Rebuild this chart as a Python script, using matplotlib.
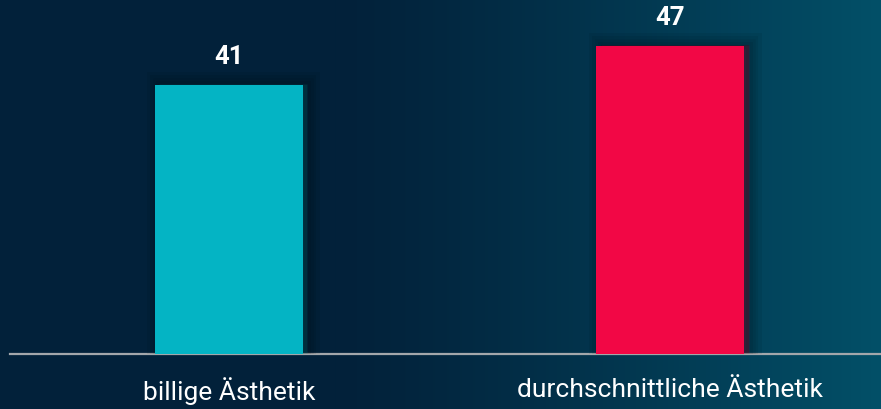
import numpy as np
import matplotlib
matplotlib.use("Agg")
import matplotlib.pyplot as plt
import matplotlib.patheffects as pe
from matplotlib.colors import to_rgb

categories = ["billige Ästhetik", "durchschnittliche Ästhetik"]
values = [41, 47]
bar_colors = ["#04b4c4", "#f20745"]

plt.rcParams["font.family"] = ["Roboto", "DejaVu Sans"]

fig = plt.figure(figsize=(8.81, 4.09), dpi=100)

# horizontal background gradient: dark navy on the left, petrol on the right
bg = fig.add_axes([0, 0, 1, 1], zorder=-10)
left = np.array(to_rgb("#02213a"))
right = np.array(to_rgb("#025068"))
t = np.linspace(0, 1, 881)
w = np.clip((t - 0.38) / 0.62, 0, 1) ** 1.2
row = left[None, :] * (1 - w[:, None]) + right[None, :] * w[:, None]
bg.imshow(row[None, :, :], aspect="auto", extent=[0, 1, 0, 1])
bg.set_axis_off()

ax = fig.add_axes([10 / 881, 55 / 409, 871 / 881, 354 / 409])
ax.set_facecolor("none")
x = np.arange(len(categories))

# soft drop shadow built from stacked translucent strokes
shadow = [pe.SimplePatchShadow(offset=(3, 1), shadow_rgbFace="black", alpha=0.2)]
for lw in (18, 13, 9, 5):
    shadow.append(pe.Stroke(offset=(3, 1), linewidth=lw, foreground="black", alpha=0.06))
shadow.append(pe.Normal())

bars = ax.bar(x, values, width=0.335, color=bar_colors, zorder=3)
for b in bars:
    b.set_path_effects(shadow)

for xi, v in zip(x, values):
    ax.annotate(str(v), (xi, v), xytext=(0, 11.5), textcoords="offset points",
                ha="center", va="bottom", color="white", fontsize=18.5, fontweight="bold")

ax.set_xlim(-0.496, 1.477)
ax.set_ylim(0, 54.0)
for s in ("top", "right", "left"):
    ax.spines[s].set_visible(False)
ax.spines["bottom"].set_color("#a3a7ab")
ax.spines["bottom"].set_linewidth(1.6)
ax.set_yticks([])
ax.set_xticks(x)
ax.set_xticklabels(categories, color="white", fontsize=19)
ax.tick_params(axis="x", length=0, pad=17)

fig.savefig("out.png", dpi=100)
